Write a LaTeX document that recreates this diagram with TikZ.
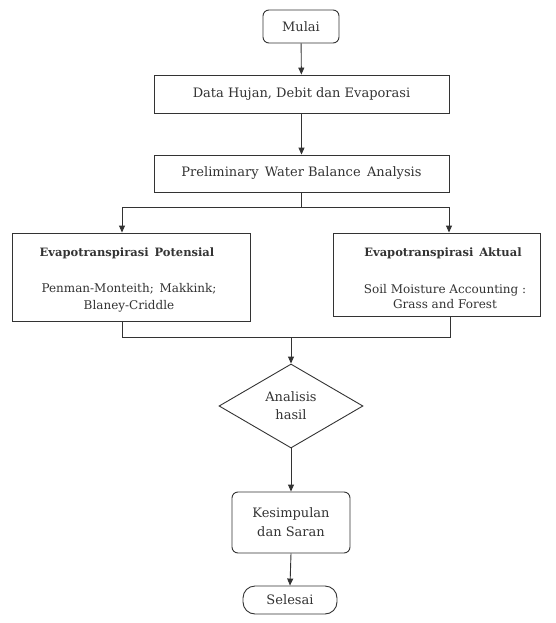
\documentclass[tikz,border=0pt]{standalone}
\usepackage{fontspec}
\setmainfont{DejaVu Serif}
\usetikzlibrary{shapes.geometric,arrows.meta}
\definecolor{ink}{HTML}{333333}
\tikzset{
  box/.style={draw=ink, line width=0.9pt, rectangle, inner sep=0pt, align=center, font=\fontsize{13}{16}\selectfont, text=ink},
  rbox/.style={box, rounded corners=6pt},
  arr/.style={draw=ink, line width=0.9pt, -{Triangle[width=6pt,length=7pt]}},
  ln/.style={draw=ink, line width=0.9pt},
  inner/.style={draw=none, inner sep=0pt, align=center, text=ink},
}
\begin{document}
\begin{tikzpicture}[x=1pt,y=-1pt]
\useasboundingbox (0,0) rectangle (555,623);
\node[rbox, minimum width=76pt, minimum height=33pt] (mulai) at (301,26.5) {Mulai};
\node[box, minimum width=295pt, minimum height=38pt] (data) at (301.5,94) {Data Hujan, Debit dan Evaporasi};
\node[box, minimum width=295pt, minimum height=37pt] (prelim) at (301.5,173.5) {Preliminary\, Water Balance\, Analysis};
\node[box, minimum width=238pt, minimum height=88pt] (pot) at (131,277) {};
\node[inner, font=\fontsize{11.5}{14}\selectfont\bfseries] (pott) at (127,253) {Evapotranspirasi\, Potensial};
\node[inner, font=\fontsize{12}{17}\selectfont] (potb) at (129,297.5) {Penman-Monteith;\, Makkink;\\Blaney-Criddle};
\node[box, minimum width=207pt, minimum height=83pt] (akt) at (436.5,274.5) {};
\node[inner, font=\fontsize{11.5}{14}\selectfont\bfseries] (aktt) at (443,253) {Evapotranspirasi\, Aktual};
\node[inner, font=\fontsize{12}{15.5}\selectfont] (aktb) at (445,296.5) {Soil Moisture Accounting :\\Grass and Forest};
\node[box, diamond, minimum width=144pt, minimum height=84pt, font=\fontsize{13}{18}\selectfont] (dia) at (291,406) {Analisis\\hasil};
\node[rbox, minimum width=118pt, minimum height=61pt, font=\fontsize{13}{19}\selectfont] (kes) at (291,522.5) {Kesimpulan\\dan Saran};
\node[rbox, rounded corners=12pt, minimum width=94pt, minimum height=28pt] (sel) at (290,600) {Selesai};
\coordinate (sl) at (122,207);
\coordinate (sr) at (449,207);
\coordinate (ml) at (122,337);
\coordinate (mr) at (450,337);
\draw[arr] (mulai) -- (data);
\draw[arr] (data) -- (prelim);
\draw[ln] (prelim.south) -- (prelim.south |- sl);
\draw[ln] (sl) -- (sr);
\draw[arr] (sl) -- (sl |- pot.north);
\draw[arr] (sr) -- (sr |- akt.north);
\draw[ln] (ml |- pot.south) -- (ml) -- (mr) -- (mr |- akt.south);
\draw[arr] (dia.north |- ml) -- (dia.north);
\draw[arr] (dia.south) -- (kes.north);
\draw[arr] (kes.south) -- (sel.north);
\end{tikzpicture}
\end{document}
